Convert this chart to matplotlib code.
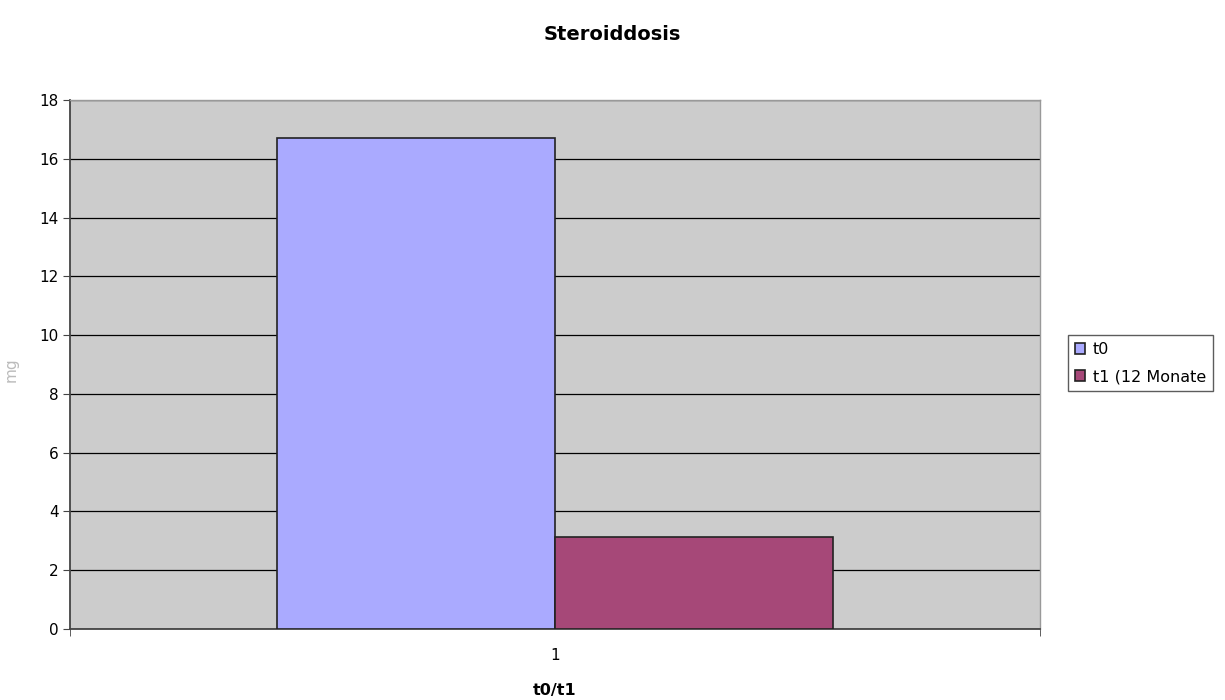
import matplotlib
matplotlib.use("Agg")
import matplotlib.pyplot as plt
import numpy as np

categories = ["1"]
series_names = ["t0", "t1 (12 Monate"]
values_t0 = [16.7]
values_t1 = [3.13]
yticks = [0, 2, 4, 6, 8, 10, 12, 14, 16, 18]

colors = ["#AAAAFF", "#A64878"]

plt.rcParams['font.family'] = ['DejaVu Sans']
fig = plt.figure(figsize=(12.25, 7), dpi=100)
ax = fig.add_axes([70/1225, 71/700, 970/1225, 529/700])
ax.set_facecolor("#CCCCCC")

x = np.arange(len(categories))
w = 0.2866
b1 = ax.bar(x - w/2, values_t0, w, color=colors[0], edgecolor="#222222", linewidth=1.2, label=series_names[0], zorder=3)
b2 = ax.bar(x + w/2, values_t1, w, color=colors[1], edgecolor="#222222", linewidth=1.2, label=series_names[1], zorder=3)

ax.set_xlim(-0.5, 0.5)
ax.set_ylim(0, 18)
ax.set_yticks(yticks)
ax.set_yticklabels([str(v) for v in yticks], fontsize=11)
ax.yaxis.grid(True, color="black", linewidth=0.9, zorder=1)
ax.set_axisbelow(True)

ax.set_xticks(x)
ax.set_xticklabels(categories, fontsize=11)
ax.tick_params(axis='x', length=0, pad=14)
ax.set_xticks([-0.5, 0.5], minor=True)
ax.tick_params(axis='x', which='minor', length=5, color="#444444")
ax.tick_params(axis='y', length=5, color="#444444", pad=3)

for s in ['left', 'bottom']:
    ax.spines[s].set_color("#444444")
    ax.spines[s].set_linewidth(1.3)
for s in ['top', 'right']:
    ax.spines[s].set_color("#999999")
    ax.spines[s].set_linewidth(1.0)

ax.set_xlabel("t0/t1", fontsize=11.5, fontweight='bold', labelpad=14)
ax.set_ylabel("mg", fontsize=11, color="#BBBBBB")
ax.yaxis.set_label_coords(-0.053, 0.49)
fig.suptitle("Steroiddosis", fontsize=14, fontweight='bold', y=0.965)

leg = fig.legend(handles=[b1, b2], labels=series_names, loc='upper left',
                 bbox_to_anchor=(1068/1225, 1 - 335/700), fontsize=11.5,
                 frameon=True, fancybox=False, edgecolor="#333333",
                 handlelength=0.6, handleheight=0.6, handletextpad=0.5,
                 borderpad=0.45, labelspacing=0.75, borderaxespad=0)
leg.get_frame().set_linewidth(1.0)

fig.savefig("out.png", dpi=100, facecolor="white")
